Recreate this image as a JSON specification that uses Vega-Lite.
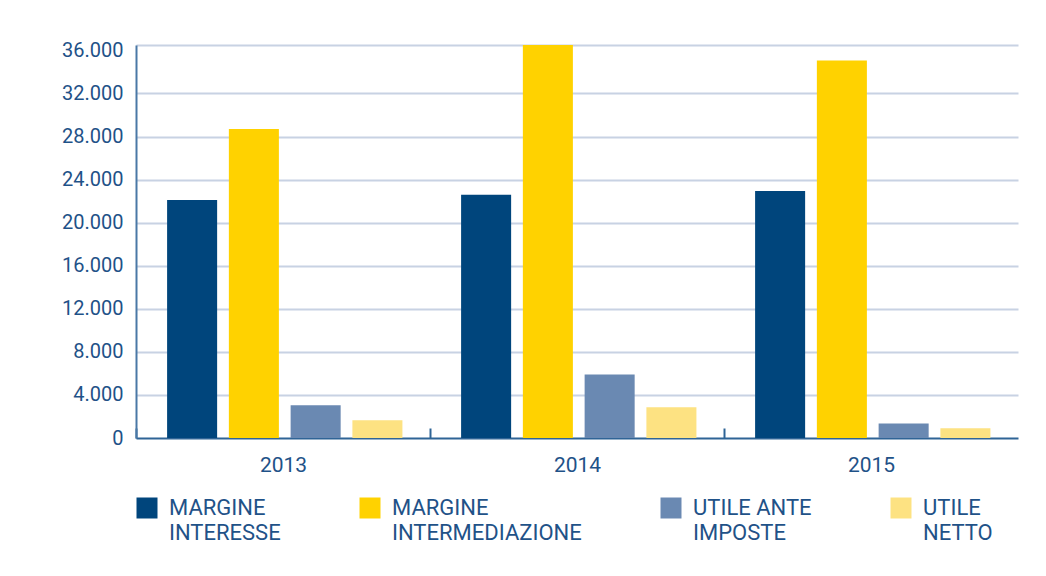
{
  "$schema": "https://vega.github.io/schema/vega-lite/v6.json",
  "autosize": {"type": "none"},
  "width": 870,
  "height": 393,
  "padding": {"left": 136, "top": 45, "right": 40, "bottom": 138},
  "background": "white",
  "config": {
    "view": {"stroke": null},
    "font": "Roboto",
    "style": {"guide-label": {"lineHeight": 25}}
  },
  "data": {
    "values": [
      {"anno": "2013", "voce": "MARGINE INTERESSE", "valore": 22100},
      {"anno": "2013", "voce": "MARGINE INTERMEDIAZIONE", "valore": 28700},
      {"anno": "2013", "voce": "UTILE ANTE IMPOSTE", "valore": 3050},
      {"anno": "2013", "voce": "UTILE NETTO", "valore": 1650},
      {"anno": "2014", "voce": "MARGINE INTERESSE", "valore": 22600},
      {"anno": "2014", "voce": "MARGINE INTERMEDIAZIONE", "valore": 36500},
      {"anno": "2014", "voce": "UTILE ANTE IMPOSTE", "valore": 5900},
      {"anno": "2014", "voce": "UTILE NETTO", "valore": 2850},
      {"anno": "2015", "voce": "MARGINE INTERESSE", "valore": 22950},
      {"anno": "2015", "voce": "MARGINE INTERMEDIAZIONE", "valore": 35050},
      {"anno": "2015", "voce": "UTILE ANTE IMPOSTE", "valore": 1350},
      {"anno": "2015", "voce": "UTILE NETTO", "valore": 900}
    ]
  },
  "mark": {"type": "bar"},
  "encoding": {
    "x": {
      "field": "anno",
      "type": "nominal",
      "scale": {"range": [0, 882], "paddingInner": 0, "paddingOuter": 0},
      "axis": {
        "title": null,
        "labelAngle": 0,
        "labelFontSize": 21,
        "labelColor": "#1f5288",
        "labelPadding": 26,
        "domain": false,
        "ticks": true,
        "tickBand": "extent",
        "tickExtra": false,
        "tickSize": -10,
        "tickWidth": 2,
        "tickColor": {"condition": {"test": "datum.value == '2015'", "value": "transparent"}, "value": "#2f6496"}
      }
    },
    "xOffset": {
      "field": "voce",
      "type": "nominal",
      "sort": ["MARGINE INTERESSE", "MARGINE INTERMEDIAZIONE", "UTILE ANTE IMPOSTE", "UTILE NETTO"],
      "scale": {"paddingInner": 0.19, "paddingOuter": 0.475, "align": 0.53}
    },
    "y": {
      "field": "valore",
      "type": "quantitative",
      "scale": {"domain": [0, 36500], "nice": false},
      "axis": {
        "title": null,
        "values": [0, 4000, 8000, 12000, 16000, 20000, 24000, 28000, 32000, 36000, 36500],
        "labelExpr": "datum.value == 36500 ? '' : replace(format(datum.value, ','), ',', '.')",
        "labelFontSize": 20,
        "labelColor": "#1f5288",
        "labelPadding": 13,
        "ticks": false,
        "domain": true,
        "domainColor": "#4a78a6",
        "domainWidth": 2,
        "grid": true,
        "gridWidth": 2,
        "gridColor": {"condition": {"test": "datum.value == 0", "value": "#2f6496"}, "value": "#c8d2e3"},
        "gridOpacity": {"condition": {"test": "datum.value == 36000", "value": 0}, "value": 1}
      }
    },
    "color": {
      "field": "voce",
      "type": "nominal",
      "scale": {
        "domain": ["MARGINE INTERESSE", "MARGINE INTERMEDIAZIONE", "UTILE ANTE IMPOSTE", "UTILE NETTO"],
        "range": ["#00457c", "#ffd200", "#6a89b2", "#fde282"]
      },
      "legend": {
        "title": null,
        "orient": "bottom",
        "direction": "horizontal",
        "columns": 4,
        "symbolType": "square",
        "symbolSize": 441,
        "symbolStrokeWidth": 0,
        "symbolOpacity": 1,
        "labelFontSize": 22,
        "labelColor": "#1f5288",
        "labelOffset": 11,
        "labelLimit": 400,
        "columnPadding": 78,
        "offset": 22,
        "labelExpr": "datum.label == 'UTILE ANTE IMPOSTE' ? ['UTILE ANTE', 'IMPOSTE'] : split(datum.label, ' ')"
      }
    }
  }
}
